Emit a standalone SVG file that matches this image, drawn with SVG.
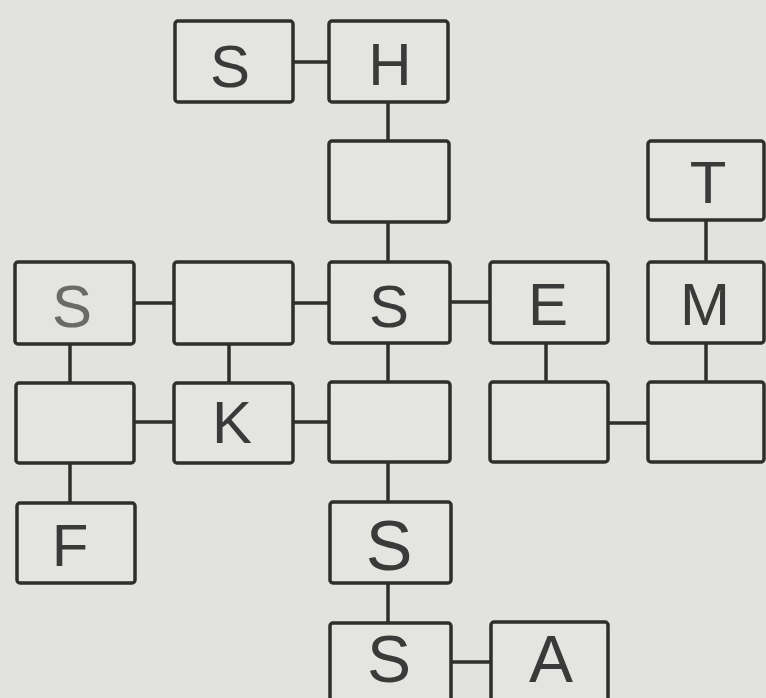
<svg xmlns="http://www.w3.org/2000/svg" width="766" height="698" viewBox="0 0 766 698">
<style>
.bg{fill:#e2e2de}
.box{fill:#e4e4e0;stroke:#2e2e2e;stroke-width:3.5}
.ln{stroke:#2e2e2e;stroke-width:3.5;fill:none}
.t{font-family:"Liberation Sans",Arial,sans-serif;font-size:60px;fill:#3a3a3a;text-anchor:middle}
.big{font-size:70px}
.btm{font-size:66px}
</style>
<rect class="bg" x="0" y="0" width="766" height="698"/>
<g id="connectors">
<line class="ln" x1="293" y1="62" x2="329" y2="62"/>
<line class="ln" x1="388" y1="102" x2="388" y2="141"/>
<line class="ln" x1="388" y1="222" x2="388" y2="262"/>
<line class="ln" x1="706" y1="220" x2="706" y2="262"/>
<line class="ln" x1="134" y1="303" x2="174" y2="303"/>
<line class="ln" x1="293" y1="303" x2="329" y2="303"/>
<line class="ln" x1="450" y1="302" x2="490" y2="302"/>
<line class="ln" x1="70" y1="344" x2="70" y2="383"/>
<line class="ln" x1="229" y1="344" x2="229" y2="383"/>
<line class="ln" x1="388" y1="343" x2="388" y2="382"/>
<line class="ln" x1="546" y1="343" x2="546" y2="382"/>
<line class="ln" x1="706" y1="343" x2="706" y2="382"/>
<line class="ln" x1="134" y1="422" x2="174" y2="422"/>
<line class="ln" x1="293" y1="422" x2="329" y2="422"/>
<line class="ln" x1="608" y1="423" x2="648" y2="423"/>
<line class="ln" x1="70" y1="463" x2="70" y2="503"/>
<line class="ln" x1="388" y1="462" x2="388" y2="502"/>
<line class="ln" x1="388" y1="583" x2="388" y2="623"/>
<line class="ln" x1="451" y1="662" x2="491" y2="662"/>
</g>
<g id="n-s-top"><rect class="box" x="175" y="21" width="118" height="81" rx="3"/><text class="t" x="230" y="87">S</text></g>
<g id="n-h"><rect class="box" x="329" y="21" width="119" height="81" rx="3"/><text class="t" x="390" y="85">H</text></g>
<g id="n-r2c3"><rect class="box" x="329" y="141" width="120" height="81" rx="3"/></g>
<g id="n-t"><rect class="box" x="648" y="141" width="116" height="79" rx="3"/><text class="t" x="708" y="203">T</text></g>
<g id="n-s-left"><rect class="box" x="15" y="262" width="119" height="82" rx="3"/><text class="t" x="72" y="327" style="fill:#6a6a66">S</text></g>
<g id="n-r3c2"><rect class="box" x="174" y="262" width="119" height="82" rx="3"/></g>
<g id="n-s-center"><rect class="box" x="329" y="262" width="121" height="81" rx="3"/><text class="t" x="389" y="327">S</text></g>
<g id="n-e"><rect class="box" x="490" y="262" width="118" height="81" rx="3"/><text class="t" x="548" y="325">E</text></g>
<g id="n-m"><rect class="box" x="648" y="262" width="116" height="81" rx="3"/><text class="t" x="705" y="325">M</text></g>
<g id="n-r4c1"><rect class="box" x="16" y="383" width="118" height="80" rx="3"/></g>
<g id="n-k"><rect class="box" x="174" y="383" width="119" height="80" rx="3"/><text class="t" x="232" y="443">K</text></g>
<g id="n-r4c3"><rect class="box" x="329" y="382" width="121" height="80" rx="3"/></g>
<g id="n-r4c4"><rect class="box" x="490" y="382" width="118" height="80" rx="3"/></g>
<g id="n-r4c5"><rect class="box" x="648" y="382" width="116" height="80" rx="3"/></g>
<g id="n-f"><rect class="box" x="17" y="503" width="118" height="80" rx="3"/><text class="t" x="70" y="566">F</text></g>
<g id="n-s-r5"><rect class="box" x="330" y="502" width="121" height="81" rx="3"/><text class="t big" x="389" y="570">S</text></g>
<g id="n-s-r6"><rect class="box" x="330" y="623" width="121" height="90" rx="3"/><text class="t btm" x="389" y="682">S</text></g>
<g id="n-a"><rect class="box" x="491" y="622" width="117" height="90" rx="3"/><text class="t btm" x="551" y="682">A</text></g>
</svg>
